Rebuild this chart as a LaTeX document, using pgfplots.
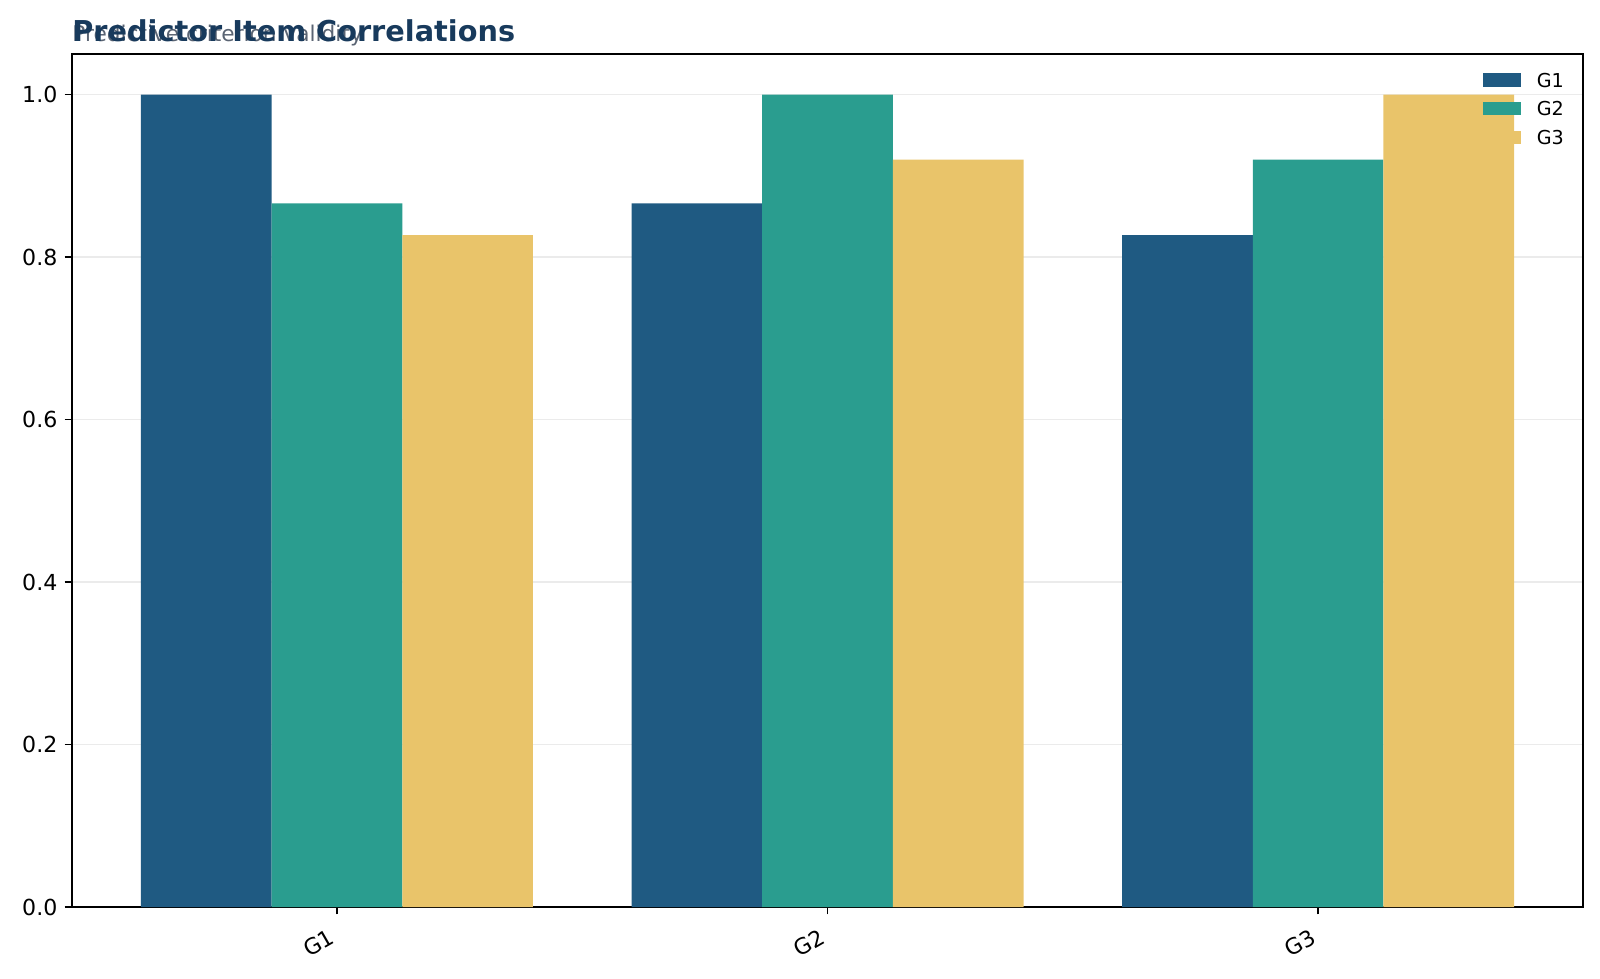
\documentclass[border=0pt]{standalone}
\usepackage{fontspec}
\setmainfont{DejaVu Sans}
\usepackage{pgfplots}
\pgfplotsset{compat=1.18}
\definecolor{cA}{RGB}{31,90,130}
\definecolor{cB}{RGB}{42,157,143}
\definecolor{cC}{RGB}{233,196,106}
\definecolor{titlecol}{RGB}{24,58,92}
\definecolor{subcol}{RGB}{90,100,115}
\begin{document}
\begin{tikzpicture}[x=1pt,y=1pt]
\useasboundingbox (0,0) rectangle (768,469.44);
\begin{axis}[
  at={(34.56pt,34.08pt)}, anchor=south west,
  scale only axis, width=725.28pt, height=409.44pt,
  xmin=-0.54, xmax=2.54, ymin=0, ymax=1.05,
  xtick={0,1,2}, xticklabels={G1,G2,G3},
  ytick={0,0.2,0.4,0.6,0.8,1.0},
  /pgf/number format/assume math mode=true,
  yticklabel style={/pgf/number format/.cd, fixed, fixed zerofill, precision=1},
  tick label style={font=\fontsize{10.6}{12}\selectfont, black},
  xticklabel style={rotate=30, anchor=north east, xshift=-3.5pt},
  ybar=0pt, bar width=62.72pt,
  ymajorgrids, grid style={color=black!8, line width=0.8pt},
  axis line style={line width=0.8pt},
  tick style={line width=0.8pt, black},
  major tick length=3.5pt,
  tick align=outside, xtick pos=left, ytick pos=left,
  legend style={at={(1,1)}, anchor=north east, xshift=-9pt, yshift=-9pt,
    draw=none, fill=none, inner sep=0pt,
    font=\fontsize{9.2}{11}\selectfont, row sep=7.0pt, column sep=7.5pt,
    nodes={inner sep=0pt, text height=6.7pt, text depth=0pt}},
  legend cell align=left,
  legend image code/.code={\fill (0pt,-3.2pt) rectangle (18.24pt,3.2pt);},
]
\addplot[fill=cA, draw=none] coordinates {(0,1.0) (1,0.866) (2,0.827)};
\addplot[fill=cB, draw=none] coordinates {(0,0.866) (1,1.0) (2,0.92)};
\addplot[fill=cC, draw=none] coordinates {(0,0.827) (1,0.92) (2,1.0)};
\legend{G1,G2,G3}
\end{axis}
\node[anchor=base west, inner sep=0pt, text=subcol, font=\fontsize{10.4}{12}\selectfont] at (34.56,449.5) {Predictive criterion validity};
\node[anchor=base west, inner sep=0pt, text=titlecol, font=\bfseries\fontsize{13.8}{15}\selectfont] at (34.56,449.5) {Predictor Item Correlations};
\end{tikzpicture}
\end{document}
